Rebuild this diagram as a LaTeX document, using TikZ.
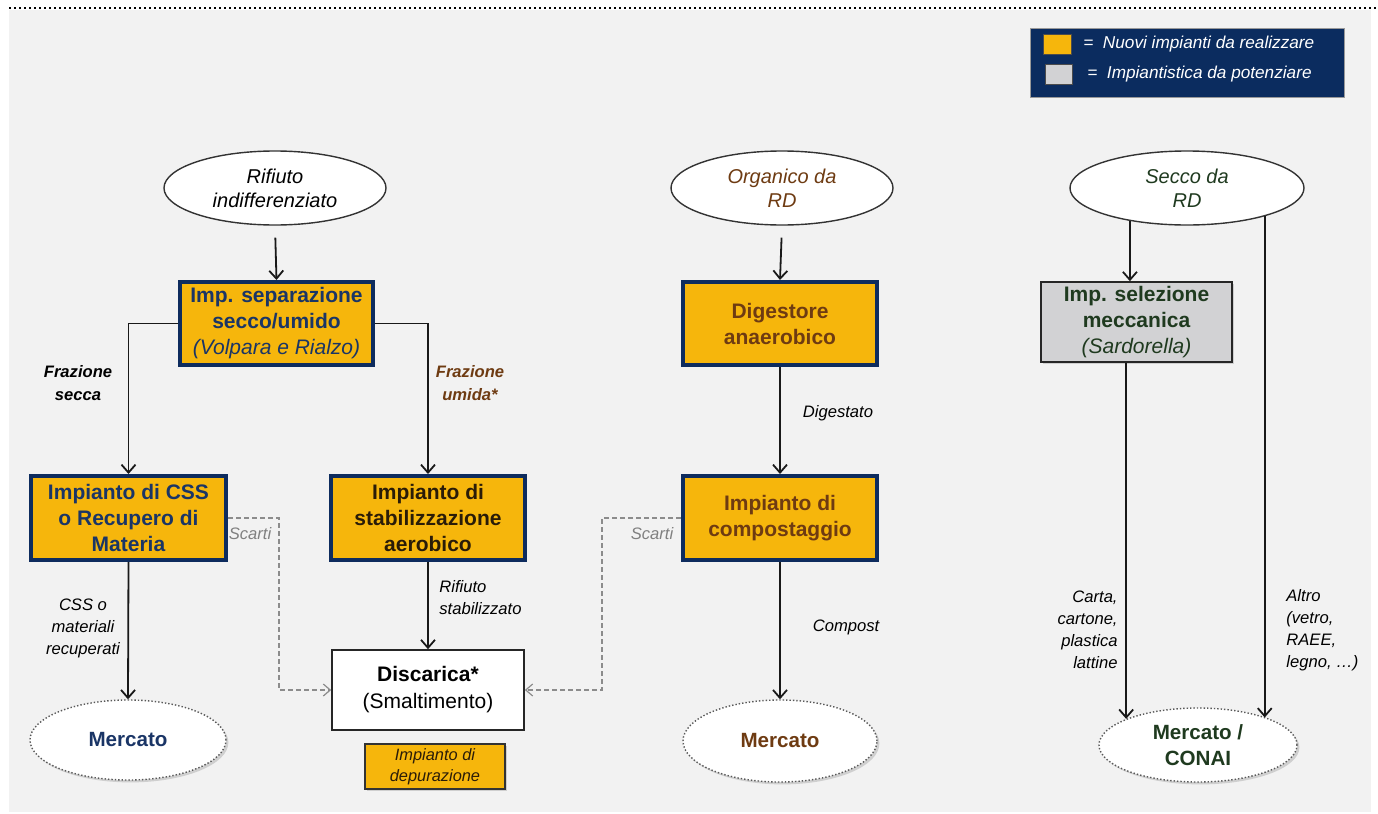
\documentclass[tikz,border=0pt]{standalone}
\usepackage{fontspec}
\setmainfont{Liberation Sans}
\usetikzlibrary{arrows.meta,shapes.geometric,shadows,calc}
\definecolor{ygold}{HTML}{F6B60C}
\definecolor{navy}{HTML}{0E2C5E}
\definecolor{navytxt}{HTML}{1A3566}
\definecolor{browntxt}{HTML}{6E3B12}
\definecolor{greentxt}{HTML}{1F3A1F}
\definecolor{darktxt}{HTML}{2A1C08}
\definecolor{bg}{HTML}{F2F2F2}
\definecolor{boxgray}{HTML}{D2D2D4}
\definecolor{legbg}{HTML}{0B2C5F}
\begin{document}
\begin{tikzpicture}[x=0.5pt,y=-0.5pt,
 plant/.style={draw=navy, line width=2pt, fill=ygold, align=center, inner sep=0pt,
   font=\fontsize{10.5}{13}\selectfont\bfseries,
   drop shadow={opacity=0.3,shadow xshift=1.2pt,shadow yshift=-1.2pt}},
 src/.style={ellipse, draw=black!80, line width=0.7pt, fill=white, align=center, inner sep=0pt,
   font=\fontsize{10}{12}\selectfont\itshape},
 mkt/.style={ellipse, draw=black!65, densely dotted, line width=0.7pt, fill=white, align=center,
   inner sep=0pt, font=\fontsize{10.3}{13}\selectfont\bfseries,
   drop shadow={opacity=0.3,shadow xshift=1.2pt,shadow yshift=-1.2pt}},
 lbl/.style={align=center, font=\fontsize{8.3}{11}\selectfont\itshape, inner sep=0pt},
 blbl/.style={lbl, font=\fontsize{8.3}{11.5}\selectfont\itshape\bfseries},
 slbl/.style={lbl, text=black!50},
 arr/.style={draw=black!90, line width=0.9pt, -{Straight Barb[length=4pt,width=7pt]}},
 scr/.style={draw=black!45, dash pattern=on 2.5pt off 1.5pt, line width=0.6pt,
   -{Straight Barb[length=3.5pt,width=6pt]}},
]
\useasboundingbox (0,0) rectangle (1378,814);
\fill[bg] (9,10) rectangle (1371,812);
\draw[black, line width=0.8pt, dash pattern=on 1pt off 1.5pt] (9,8) -- (1378,8);

% legend
\node[fill=legbg, draw=black!40, line width=0.4pt, minimum width=157pt, minimum height=34.5pt, inner sep=0pt] (leg) at (1187,62.5) {};
\node[fill=ygold, draw=black!70, line width=0.5pt, minimum width=14pt, minimum height=10pt, inner sep=0pt] (lya) at (1057,44) {};
\node[fill=boxgray, draw=black!70, line width=0.5pt, minimum width=13.5pt, minimum height=10pt, inner sep=0pt] (lgr) at (1058.5,74) {};
\node[anchor=west, text=white, inner sep=0pt, font=\fontsize{8.6}{10}\selectfont\itshape] (lyt) at (1083,44) {=\ \ Nuovi impianti da realizzare};
\node[anchor=west, text=white, inner sep=0pt, font=\fontsize{8.6}{10}\selectfont\itshape] (lgt) at (1087,74) {=\ \ Impiantistica da potenziare};

% sources
\node[src, minimum width=111pt, minimum height=37pt] (rif) at (275,188) {Rifiuto\\indifferenziato};
\node[src, minimum width=111pt, minimum height=37pt, text=browntxt] (org) at (782,188) {Organico da\\RD};
\node[src, minimum width=117pt, minimum height=37pt, text=greentxt] (sec) at (1187,188) {Secco da\\RD};

% plants
\node[plant, text=navytxt, minimum width=96.5pt, minimum height=41.5pt] (sep) at (276.5,323.5)
  {Imp. separazione\\secco/umido\\{\mdseries\itshape(Volpara e Rialzo)}};
\node[plant, text=navytxt, minimum width=97.5pt, minimum height=42pt] (css) at (128.5,518)
  {Impianto di CSS\\o Recupero di\\Materia};
\node[plant, text=darktxt, minimum width=97pt, minimum height=42pt] (stab) at (428,518)
  {Impianto di\\stabilizzazione\\aerobico};
\node[plant, text=browntxt, minimum width=97pt, minimum height=41.5pt] (dig) at (780,323.5)
  {Digestore\\anaerobico};
\node[plant, text=browntxt, minimum width=97pt, minimum height=42pt] (comp) at (780,518)
  {Impianto di\\compostaggio};
\node[draw=black!85, line width=0.8pt, fill=boxgray, text=greentxt, align=center, inner sep=0pt,
  font=\fontsize{10.5}{13}\selectfont\bfseries, minimum width=95.5pt, minimum height=40pt,
  drop shadow={opacity=0.3,shadow xshift=1.2pt,shadow yshift=-1.2pt}] (sel) at (1136.5,322)
  {Imp. selezione\\meccanica\\{\mdseries\itshape(Sardorella)}};
\node[draw=black!85, line width=0.8pt, fill=white, align=center, inner sep=0pt,
  font=\fontsize{10.5}{13.5}\selectfont, minimum width=96pt, minimum height=40pt] (disc) at (428,690)
  {\textbf{Discarica*}\\(Smaltimento)};
\node[draw=black!80, line width=0.8pt, fill=ygold, text=darktxt, align=center, inner sep=0pt,
  font=\fontsize{8.2}{10.5}\selectfont\itshape, minimum width=70pt, minimum height=22.5pt,
  drop shadow={opacity=0.3,shadow xshift=1pt,shadow yshift=-1pt}] (dep) at (435,766.5)
  {Impianto di\\depurazione};

% markets
\node[mkt, text=navytxt, minimum width=98pt, minimum height=40pt] (m1) at (128,740) {Mercato};
\node[mkt, text=browntxt, minimum width=97pt, minimum height=41pt] (m2) at (780,741) {Mercato};
\node[mkt, text=greentxt, minimum width=99pt, minimum height=37pt] (con) at (1198,745) {Mercato /\\CONAI};

% connectors
\draw[arr, shorten <=6pt] (rif.south) -- (sep.north);
\draw[arr] (sep.west) -| (css.north);
\draw[arr] (sep.east) -| (stab.north);
\draw[arr] (css.south) -- (m1.north);
\draw[arr] (stab.south) -- (disc.north);
\draw[scr] (css.east) -- ++(51,0) |- (disc.west);
\draw[scr] (comp.west) -- ++(-79,0) |- (disc.east);
\draw[arr, shorten <=6pt] (org.south) -- (dig.north);
\draw[arr] (dig.south) -- (comp.north);
\draw[arr] (comp.south) -- (m2.north);
\draw[arr] (sec.210) -- (sec.210 |- sel.north);
\draw[arr] (sec.-20) -- (sec.-20 |- con.22);
\draw[arr] (con.160 |- sel.south) -- (con.160);

% labels
\node[blbl] (lfs) at (78,383) {Frazione\\secca};
\node[blbl, text=browntxt] (lfu) at (470,383) {Frazione\\umida*};
\node[lbl] (lcss) at (83,628) {CSS o\\materiali\\recuperati};
\node[lbl, anchor=west, align=left] (lrs) at (439,598) {Rifiuto\\stabilizzato};
\node[slbl] (ls1) at (250,534) {Scarti};
\node[slbl] (ls2) at (652,534) {Scarti};
\node[lbl] (ldg) at (838,413) {Digestato};
\node[lbl] (lcp) at (846,627) {Compost};
\node[lbl, anchor=east, align=right] (lca) at (1118,630) {Carta,\\cartone,\\plastica\\lattine};
\node[lbl, anchor=west, align=left] (lal) at (1286,630) {Altro\\(vetro,\\RAEE,\\legno, …)};
\end{tikzpicture}
\end{document}
